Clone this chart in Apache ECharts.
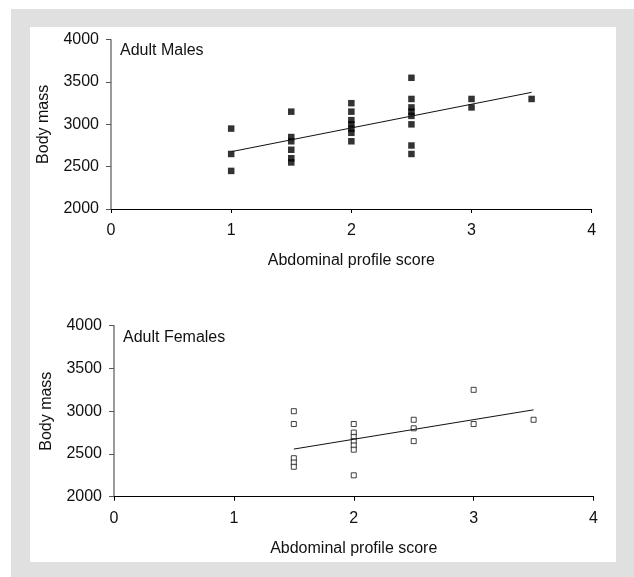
<!DOCTYPE html>
<html>
<head>
<meta charset="utf-8">
<script src="https://cdn.jsdelivr.net/npm/echarts@6/dist/echarts.min.js"></script>
<style>
  html, body { margin: 0; padding: 0; background: #fff; }
  #chart { width: 634px; height: 577px; }
</style>
</head>
<body>
<div id="chart"></div>
<script>
// Abdominal profile score vs body mass, adult males (filled) and females (open)
const maleScores = [1, 1, 1,
  1.5, 1.5, 1.5, 1.5, 1.5, 1.5,
  2, 2, 2, 2, 2, 2, 2,
  2.5, 2.5, 2.5, 2.5, 2.5, 2.5, 2.5, 2.5,
  3, 3,
  3.5];
const maleMass = [2950, 2650, 2450,
  3150, 2850, 2800, 2700, 2600, 2550,
  3250, 3150, 3050, 3000, 2950, 2900, 2800,
  3550, 3300, 3200, 3150, 3100, 3000, 2750, 2650,
  3300, 3200,
  3300];
const maleTrendX = [1, 3.5];
const maleTrendY = [2677, 3378];

const femaleScores = [1.5, 1.5, 1.5, 1.5, 1.5,
  2, 2, 2, 2, 2, 2, 2,
  2.5, 2.5, 2.5,
  3, 3,
  3.5];
const femaleMass = [3000, 2850, 2450, 2400, 2350,
  2850, 2750, 2700, 2650, 2600, 2550, 2250,
  2900, 2800, 2650,
  3250, 2850,
  2900];
const femaleTrendX = [1.5, 3.5];
const femaleTrendY = [2557, 3016];

const xTicks = [0, 1, 2, 3, 4];
const yTicks = [2000, 2500, 3000, 3500, 4000];

const pair = (xs, ys) => xs.map((x, i) => [x, ys[i]]);

const FONT = 'Liberation Sans, Arial, Helvetica, sans-serif';
const TEXT = '#111';
const FS = 16;

function xAxis(gridIndex) {
  return {
    type: 'value', gridIndex,
    min: xTicks[0], max: xTicks[xTicks.length - 1], interval: 1,
    name: 'Abdominal profile score', nameLocation: 'middle', nameGap: 44,
    nameTextStyle: { fontFamily: FONT, fontSize: FS, color: TEXT },
    axisLine: { show: true, onZero: false, lineStyle: { color: '#000', width: 1 } },
    axisTick: { show: true, length: 4, lineStyle: { color: '#000' } },
    axisLabel: { margin: 14, fontFamily: FONT, fontSize: FS, color: TEXT,
      formatter: v => String(v) },
    splitLine: { show: false }
  };
}
function yAxis(gridIndex) {
  return {
    type: 'value', gridIndex,
    min: yTicks[0], max: yTicks[yTicks.length - 1], interval: 500,
    name: 'Body mass', nameLocation: 'middle', nameRotate: 90, nameGap: 59,
    nameTextStyle: { fontFamily: FONT, fontSize: FS, color: TEXT },
    axisLine: { show: true, onZero: false, lineStyle: { color: '#7a7a7a', width: 1.5 } },
    axisTick: { show: true, length: 5, lineStyle: { color: '#555' } },
    axisLabel: { margin: 12, fontFamily: FONT, fontSize: FS, color: TEXT,
      formatter: v => String(v) },
    splitLine: { show: false }
  };
}

const chart = echarts.init(document.getElementById('chart'), null, { renderer: 'canvas' });
chart.setOption({
  animation: false,
  backgroundColor: '#fff',
  graphic: [
    { type: 'rect', z: -10, silent: true, shape: { x: 11, y: 9, width: 640, height: 600 }, style: { fill: '#e0e0e0' } },
    { type: 'rect', z: -9, silent: true, shape: { x: 30, y: 27, width: 586, height: 535 }, style: { fill: '#fff' } }
  ],
  title: [
    { text: 'Adult Males', left: 120, top: 43, padding: 0,
      textStyle: { fontFamily: FONT, fontSize: FS, fontWeight: 'normal', color: TEXT } },
    { text: 'Adult Females', left: 123, top: 330, padding: 0,
      textStyle: { fontFamily: FONT, fontSize: FS, fontWeight: 'normal', color: TEXT } }
  ],
  grid: [
    { left: 111, top: 39.7, width: 480.7, height: 169.3 },
    { left: 114, top: 325.7, width: 479.5, height: 171 }
  ],
  xAxis: [xAxis(0), xAxis(1)],
  yAxis: [yAxis(0), yAxis(1)],
  series: [
    { type: 'scatter', xAxisIndex: 0, yAxisIndex: 0, data: pair(maleScores, maleMass),
      symbol: 'rect', symbolSize: 6.5, itemStyle: { color: '#000' } },
    { type: 'line', xAxisIndex: 0, yAxisIndex: 0, data: pair(maleTrendX, maleTrendY),
      symbol: 'none', lineStyle: { color: '#111', width: 1 } },
    { type: 'scatter', xAxisIndex: 1, yAxisIndex: 1, data: pair(femaleScores, femaleMass),
      symbol: 'rect', symbolSize: 5, itemStyle: { color: '#fff', borderColor: '#111', borderWidth: 1 } },
    { type: 'line', xAxisIndex: 1, yAxisIndex: 1, data: pair(femaleTrendX, femaleTrendY),
      symbol: 'none', lineStyle: { color: '#111', width: 1 } }
  ]
});
</script>
</body>
</html>
